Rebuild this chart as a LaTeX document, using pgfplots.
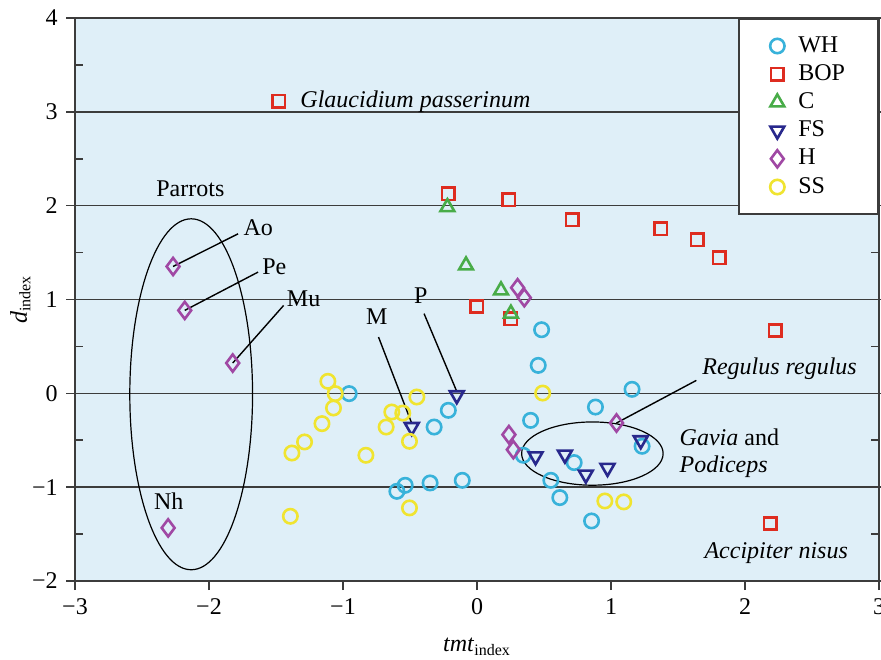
\documentclass[border=0pt]{standalone}
\usepackage{fontspec}
\setmainfont{Liberation Serif}
\usepackage{pgfplots}
\pgfplotsset{compat=1.18}
\definecolor{bgblue}{RGB}{223,239,248}
\definecolor{gridc}{RGB}{60,60,60}
\definecolor{cWH}{RGB}{56,178,218}
\definecolor{cBOP}{RGB}{222,44,32}
\definecolor{cC}{RGB}{72,172,72}
\definecolor{cFS}{RGB}{40,40,140}
\definecolor{cH}{RGB}{160,72,164}
\definecolor{cSS}{RGB}{240,228,48}
\begin{document}
\fontsize{12}{14}\selectfont
\begin{tikzpicture}
\begin{axis}[
  scale only axis,
  width=402pt, height=281.5pt,
  xmin=-3, xmax=3, ymin=-2, ymax=4,
  axis background/.style={fill=bgblue},
  axis line style={gridc, line width=1pt},
  xtick={-3,...,3},
  xticklabels={−3,−2,−1,0,1,2,3},
  ytick={-2,...,4},
  yticklabels={−2,−1,0,1,2,3,4},
  extra y ticks={-1.5,-0.5,0.5,1.5,2.5,3.5},
  extra y tick labels={},
  extra y tick style={tick align=inside, major tick length=4pt, grid=none},
  xtick pos=left, ytick pos=both,
  yticklabel pos=left,
  tick align=outside,
  major tick length=4.5pt,
  tick style={gridc, line width=0.8pt},
  ymajorgrids,
  major grid style={gridc, line width=0.8pt},
  xlabel={\textit{tmt}\textsubscript{index}},
  ylabel={\textit{d}\textsubscript{index}},
  every axis x label/.style={at={(axis description cs:0.5,-0.117)}, anchor=center},
  every axis y label/.style={at={(axis description cs:-0.068,0.5)}, anchor=center, rotate=90},
  legend cell align=left,
  legend style={at={(1,1)}, anchor=north east, draw=gridc, line width=1pt, fill=white,
    inner xsep=13.5pt, inner ysep=8.5pt, row sep=4.1pt,
    nodes={text height=8pt, text depth=2pt, inner ysep=0pt, inner xsep=3pt},
    /tikz/every even column/.append style={column sep=0pt}},
  legend image code/.code={\path[draw=none,fill=none] (-5.5pt,0pt) -- (7.5pt,0pt); \draw[#1] plot coordinates {(0pt,0pt)};},
  clip=false,
]
\addplot[only marks, mark=o, mark size=3.6pt, line width=1.3pt, cWH] coordinates {
(-0.954,-0.003) (-0.320,-0.359) (-0.214,-0.181) (-0.598,-1.044) (-0.536,-0.980)
(-0.350,-0.955) (-0.110,-0.927) (0.482,0.678) (0.457,0.298) (0.400,-0.288)
(0.345,-0.660) (0.725,-0.738) (0.551,-0.927) (0.618,-1.111) (0.855,-1.360)
(0.884,-0.146) (1.157,0.043) (1.232,-0.564)};
\addlegendentry{WH}
\addplot[only marks, mark=square, mark size=3.1pt, line width=1.3pt, cBOP] coordinates {
(-1.478,3.113) (-0.214,2.127) (0.238,2.063) (0.710,1.850) (1.371,1.754)
(1.644,1.637) (1.806,1.445) (-0.002,0.926) (0.251,0.795) (2.226,0.670) (2.188,-1.388)};
\addlegendentry{BOP}
\addplot[only marks, mark=triangle, mark size=4pt, line width=1.3pt, cC] coordinates {
(-0.221,1.984) (-0.082,1.363) (0.179,1.097) (0.253,0.849)};
\addlegendentry{C}
\addplot[only marks, mark=triangle, mark options={rotate=180}, mark size=4pt, line width=1.3pt, cFS] coordinates {
(-0.487,-0.359) (-0.151,-0.020) (0.437,-0.671) (0.656,-0.653) (0.812,-0.866)
(0.974,-0.795) (1.222,-0.500)};
\addlegendentry{FS}
\addplot[only marks, mark=diamond, mark size=4.3pt, line width=1.3pt, cH] coordinates {
(-2.268,1.352) (-2.181,0.884) (-1.823,0.323) (-2.305,-1.434) (0.303,1.125)
(0.353,1.019) (0.238,-0.440) (0.271,-0.600) (1.041,-0.316)};
\addlegendentry{H}
\addplot[only marks, mark=o, mark size=3.6pt, line width=1.3pt, cSS] coordinates {
(-1.113,0.128) (-1.058,-0.003) (-1.071,-0.156) (-1.157,-0.323) (-1.287,-0.518)
(-1.381,-0.636) (-1.393,-1.310) (-0.829,-0.660) (-0.636,-0.199) (-0.554,-0.210)
(-0.678,-0.359) (-0.449,-0.039) (-0.504,-0.511) (-0.504,-1.221) (0.490,0.003)
(0.954,-1.147) (1.095,-1.157)};
\addlegendentry{SS}
% ellipses
\draw[black, line width=0.6pt] (axis cs:-2.133,-0.01) ellipse [x radius=0.458, y radius=1.87];
\draw[black, line width=0.6pt] (axis cs:0.861,-0.642) ellipse [x radius=0.528, y radius=0.337];
% annotation lines
\draw[black, line width=0.7pt] (axis cs:-1.783,1.70) -- (axis cs:-2.268,1.352);
\draw[black, line width=0.7pt] (axis cs:-1.634,1.292) -- (axis cs:-2.181,0.884);
\draw[black, line width=0.7pt] (axis cs:-1.443,0.937) -- (axis cs:-1.823,0.323);
\draw[black, line width=0.7pt] (axis cs:-0.735,0.60) -- (axis cs:-0.487,-0.32);
\draw[black, line width=0.7pt] (axis cs:-0.395,0.849) -- (axis cs:-0.151,0.02);
\draw[black, line width=0.7pt] (axis cs:1.637,0.138) -- (axis cs:1.041,-0.316);
% labels
\node[anchor=west, font=\itshape] at (axis cs:-1.38,3.11) {Glaucidium passerinum};
\node at (axis cs:-2.139,2.18) {Parrots};
\node at (axis cs:-1.632,1.768) {Ao};
\node at (axis cs:-1.513,1.353) {Pe};
\node at (axis cs:-1.294,1.008) {Mu};
\node at (axis cs:-0.747,0.813) {M};
\node at (axis cs:-0.42,1.044) {P};
\node at (axis cs:-2.30,-1.15) {Nh};
\node[font=\itshape] at (axis cs:2.258,0.263) {Regulus regulus};
\node[anchor=west] at (axis cs:1.45,-0.465) {\textit{Gavia} and};
\node[anchor=west] at (axis cs:1.45,-0.785) {\textit{Podiceps}};
\node[font=\itshape] at (axis cs:2.233,-1.70) {Accipiter nisus};
\end{axis}
\pgfresetboundingbox
\useasboundingbox (-37.5pt,-39pt) rectangle (403pt,290.5pt);
\end{tikzpicture}
\end{document}
